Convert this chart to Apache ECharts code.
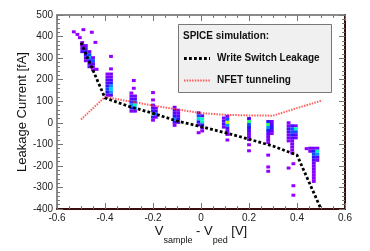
<!DOCTYPE html>
<html><head><meta charset="utf-8">
<script src="https://cdn.jsdelivr.net/npm/echarts@6/dist/echarts.min.js"></script>
<style>html,body{margin:0;padding:0;background:#fff}#c{width:370px;height:251px}</style>
</head><body><div id="c"></div>
<script>
// ---- data ----
const xTickLabels = ['-0.6','-0.4','-0.2','0','0.2','0.4','0.6'];
const yTickLabels = ['-400','-300','-200','-100','0','100','200','300','400','500'];
const legendTitle = 'SPICE simulation:';
const seriesNames = ['Write Switch Leakage', 'NFET tunneling'];

// SPICE curves [V, fA]
const writeSwitchLeakage = [[-0.5,372],[-0.4,115],[-0.3,76],[-0.2,44],[-0.1,8],[0,-18],[0.1,-46],[0.2,-76],[0.3,-108],[0.4,-150],[0.5,-400]];
const nfetTunneling = [[-0.5,15],[-0.4,120],[-0.3,100],[-0.2,80],[-0.1,62],[0,45],[0.1,37],[0.2,34],[0.3,33],[0.4,68],[0.5,102]];

// measured 2D histogram cells [V, fA, counts]
const colA = [[-0.530,422,1],[-0.490,432,1],[-0.515,410,1],[-0.455,420,1],[-0.505,395,1],[-0.440,373,1],
 [-0.495,372,1],[-0.495,358,2],[-0.495,344,2],[-0.495,330,3],
 [-0.480,358,2],[-0.480,344,3],[-0.480,330,4],[-0.480,316,4],[-0.480,302,3],[-0.480,288,2],
 [-0.465,330,2],[-0.465,316,5],[-0.465,302,6],[-0.465,288,4],[-0.465,274,3],[-0.465,260,2],
 [-0.450,302,2],[-0.450,288,5],[-0.450,274,3],[-0.450,260,2],[-0.450,246,1],[-0.435,248,1]];
const colB = [[-0.375,308,1],[-0.375,250,1],
 [-0.390,226,1],[-0.390,212,2],[-0.390,198,3],[-0.390,184,3],[-0.390,170,4],[-0.390,156,5],[-0.390,142,4],[-0.390,128,2],
 [-0.375,226,2],[-0.375,212,2],[-0.375,198,3],[-0.375,184,4],[-0.375,170,6],[-0.375,156,7],[-0.375,142,6],[-0.375,128,3]];
const colC = [[-0.280,196,1],[-0.280,160,1],
 [-0.290,138,1],[-0.290,124,2],[-0.290,110,3],[-0.290,96,4],[-0.290,82,6],[-0.290,68,4],[-0.290,54,2],
 [-0.275,124,2],[-0.275,110,3],[-0.275,96,5],[-0.275,82,8],[-0.275,68,6],[-0.275,54,2]];
const colD = [[-0.200,140,1],[-0.200,106,1],[-0.200,82,2],[-0.200,68,3],[-0.200,54,4],[-0.200,40,9],[-0.200,26,4],[-0.200,12,1],
 [-0.188,68,2],[-0.188,54,3],[-0.188,40,5],[-0.188,26,2]];
const colE = [[-0.110,72,2],[-0.110,58,3],[-0.110,44,3],[-0.110,30,4],[-0.110,16,6],[-0.110,2,3],[-0.110,-12,1],
 [-0.095,58,2],[-0.095,44,2],[-0.095,30,3],[-0.095,16,4],[-0.095,2,2]];
const colF = [[-0.010,46,3],[-0.010,32,5],[-0.010,18,7],[-0.010,4,4],[-0.010,-10,2],[-0.010,-46,1],
 [0.005,32,3],[0.005,18,8],[0.005,4,8],[0.005,-10,4],[0.005,-24,2],[0.005,-38,1]];
const colG = [[0.095,22,2],[0.095,8,3],[0.095,-6,3],[0.095,-20,2],
 [0.110,30,2],[0.110,16,5],[0.110,2,11],[0.110,-12,6],[0.110,-26,3],[0.110,-40,2],[0.110,-54,1],[0.110,-80,1]];
const colH = [[0.200,20,3],[0.200,6,9],[0.200,-8,5],[0.200,-22,4],[0.200,-36,3],[0.200,-50,2],[0.200,-64,2],[0.200,-78,1],[0.200,-102,1],[0.200,-130,1]];
const colI = [[0.280,6,4],[0.280,-8,9],[0.280,-22,6],[0.280,-36,4],[0.280,-50,3],[0.280,-64,2],[0.280,-78,2],[0.280,-92,1],[0.280,-150,1],[0.280,-205,1],[0.280,-225,1],
 [0.295,6,2],[0.295,-8,3],[0.295,-22,4],[0.295,-36,3],[0.295,-50,1]];
const colJ = [[0.365,0,1],[0.365,-14,2],[0.365,-28,3],[0.365,-42,3],[0.365,-56,2],[0.365,-70,2],[0.365,-84,1],[0.365,-210,1],
 [0.380,-14,3],[0.380,-28,5],[0.380,-42,5],[0.380,-56,4],[0.380,-70,3],[0.380,-84,2],[0.380,-98,2],[0.380,-112,2],[0.380,-126,1],[0.380,-140,1],
 [0.385,-190,1],[0.385,-292,1],[0.385,-336,1],
 [0.395,-14,2],[0.395,-28,8],[0.395,-42,5],[0.395,-56,3],[0.395,-70,2]];
const colK = [[0.440,-120,1],[0.455,-118,2],[0.455,-132,2],
 [0.470,-118,2],[0.470,-132,4],[0.470,-146,5],[0.470,-160,4],[0.470,-174,3],[0.470,-188,2],[0.470,-202,2],[0.470,-216,2],[0.470,-230,1],[0.470,-244,1],[0.470,-258,1],[0.470,-272,1],
 [0.485,-118,2],[0.485,-132,8],[0.485,-146,6],[0.485,-160,3],[0.485,-174,2]];

const cells = [].concat(colA,colB,colC,colD,colE,colF,colG,colH,colI,colJ,colK);
const binW = 0.016, binH = 14;

// ---- chart ----
const chart = echarts.init(document.getElementById('c'), null, {renderer:'canvas'});
const FONT = '"Liberation Sans", Arial, Helvetica, sans-serif';
const xMin = parseFloat(xTickLabels[0]), xMax = parseFloat(xTickLabels[xTickLabels.length-1]);
const yMin = parseFloat(yTickLabels[0]), yMax = parseFloat(yTickLabels[yTickLabels.length-1]);
const xStep = 0.2, yStep = 100;
function xLab(v){ const i = Math.round((v - xMin)/xStep); return xTickLabels[i] || ''; }
function yLab(v){ const i = Math.round((v - yMin)/yStep); return yTickLabels[i] || ''; }

const tickCol = '#777';
const baseX = {
  type:'value', min:xMin, max:xMax, interval:xStep,
  splitLine:{show:false},
  axisTick:{show:true, inside:true, length:6, lineStyle:{color:tickCol, width:1}},
  minorTick:{show:true, splitNumber:4, length:3, lineStyle:{color:tickCol, width:1}},
};
const baseY = {
  type:'value', min:yMin, max:yMax, interval:yStep,
  splitLine:{show:false},
  axisTick:{show:true, inside:true, length:6, lineStyle:{color:tickCol, width:1}},
  minorTick:{show:true, splitNumber:5, length:3, lineStyle:{color:tickCol, width:1}},
};

chart.setOption({
  animation:false,
  backgroundColor:'#fff',
  grid:{left:57, right:25, top:15, bottom:42, containLabel:false},
  xAxis:[
    Object.assign({}, baseX, {
      position:'bottom',
      axisLine:{show:true, onZero:false, lineStyle:{color:'#3a0d0d', width:2}},
      axisLabel:{show:true, formatter:xLab, color:'#222', fontFamily:FONT, fontSize:10, margin:4},
      name:'V{sub|sample} - V{sub|ped} [V]', nameLocation:'middle', nameGap:16, nameMoveOverlap:false,
      nameTextStyle:{color:'#111', fontFamily:FONT, fontSize:13, verticalAlign:'top',
        rich:{sub:{fontFamily:FONT, fontSize:9, verticalAlign:'bottom', padding:[0,0,-7,0], color:'#111'}}}
    }),
    Object.assign({}, baseX, {
      position:'top',
      axisLine:{show:true, onZero:false, lineStyle:{color:'#666', width:1.5}},
      axisLabel:{show:false}
    })
  ],
  yAxis:[
    Object.assign({}, baseY, {
      position:'left',
      axisLine:{show:true, onZero:false, lineStyle:{color:'#666', width:1.5}},
      axisLabel:{show:true, formatter:yLab, color:'#222', fontFamily:FONT, fontSize:10, margin:4},
      name:'Leakage Current [fA]', nameLocation:'middle', nameGap:28, nameRotate:90, nameMoveOverlap:false,
      nameTextStyle:{color:'#111', fontFamily:FONT, fontSize:13}
    }),
    Object.assign({}, baseY, {
      position:'right',
      axisLine:{show:true, onZero:false, lineStyle:{color:'#3a0d0d', width:2}},
      axisLabel:{show:false}
    })
  ],
  visualMap:{
    show:false, type:'continuous', seriesIndex:0, dimension:2, min:1, max:14,
    inRange:{color:['#9400ff','#6a00ff','#2a10ff','#0060ff','#00c8ff','#00ffb0','#40ff20','#c8ff00','#ffb000','#ff0000']}
  },
  series:[
    {
      type:'custom', name:'data', xAxisIndex:0, yAxisIndex:0, clip:true, z:2,
      data:cells,
      renderItem:function(params, api){
        const c = api.coord([api.value(0), api.value(1)]);
        const s = api.size([binW, binH]);
        return {type:'rect', shape:{x:c[0]-s[0]/2, y:c[1]-s[1]/2, width:s[0], height:s[1]},
          style:{fill:api.visual('color')}};
      }
    },
    {
      type:'line', name:seriesNames[1], data:nfetTunneling, showSymbol:false, symbol:'none', z:3,
      lineStyle:{color:'#ff2a2a', width:2, type:[1.5,1.2], opacity:0.75}
    },
    {
      type:'line', name:seriesNames[0], data:writeSwitchLeakage, showSymbol:false, symbol:'none', z:4, clip:true,
      lineStyle:{color:'#000', width:2.8, type:[2.8,2.2]}
    }
  ],
  graphic:[
    {type:'rect', z:100, shape:{x:178.5, y:24.5, width:153, height:68},
      style:{fill:'#f0f0f0', stroke:'#777', lineWidth:1}},
    {type:'text', z:101, x:183, y:36, style:{text:legendTitle, font:'bold 10px '+FONT, fill:'#111', verticalAlign:'middle'}},
    {type:'line', z:101, shape:{x1:184, y1:58.5, x2:210, y2:58.5}, style:{stroke:'#000', lineWidth:2.8, lineDash:[2.8,2.2]}},
    {type:'text', z:101, x:217, y:58, style:{text:seriesNames[0], font:'bold 10px '+FONT, fill:'#111', verticalAlign:'middle'}},
    {type:'line', z:101, shape:{x1:184, y1:80.5, x2:210, y2:80.5}, style:{stroke:'#ff2a2a', lineWidth:2, lineDash:[1.5,1.2], opacity:0.75}},
    {type:'text', z:101, x:217, y:80, style:{text:seriesNames[1], font:'bold 10px '+FONT, fill:'#111', verticalAlign:'middle'}}
  ]
});
</script></body></html>
